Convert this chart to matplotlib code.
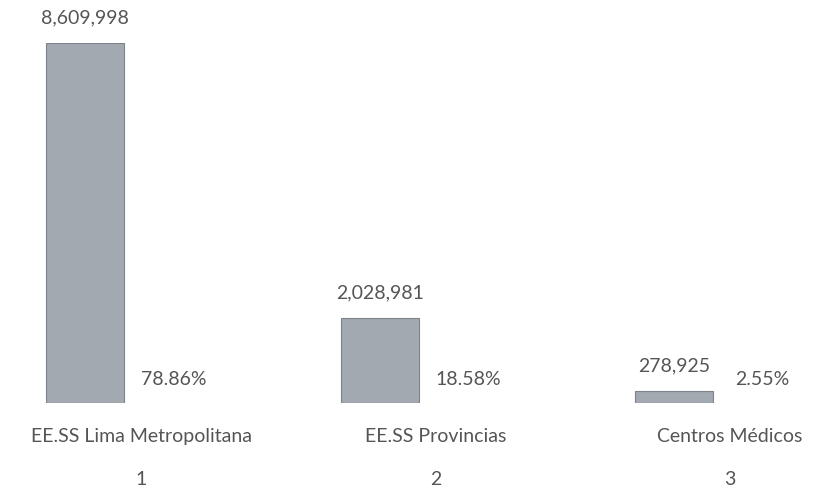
import matplotlib.pyplot as plt

# Data
categories = ["EE.SS Lima Metropolitana", "EE.SS Provincias", "Centros Médicos"]
numbers = ["1", "2", "3"]
values = [8609998, 2028981, 278925]
percents = ["78.86%", "18.58%", "2.55%"]

text_color = "#555555"
bar_color = "#a3a9b1"
plt.rcParams["font.family"] = ["Lato", "DejaVu Sans"]

fig = plt.figure(figsize=(8.14, 4.9), dpi=100)
ax = fig.add_axes([0, 0.1776, 1, 0.7347])

slots = list(range(len(categories)))
bar_x = [s - 0.19 for s in slots]
pct_x = [s + 0.11 for s in slots]

ax.bar(bar_x, values, width=0.265, color=bar_color, edgecolor="#7d838a", linewidth=0.8)

ax.set_xlim(-0.479, 2.285)
ax.set_ylim(0, max(values))
ax.axis("off")

for x, v in zip(bar_x, values):
    ax.annotate(f"{v:,}", (x, v), xytext=(0, 18), textcoords="offset points",
                ha="center", va="center", fontsize=14, color=text_color)

for x, p in zip(pct_x, percents):
    ax.annotate(p, (x, 0), xytext=(0, 17), textcoords="offset points",
                ha="center", va="center", fontsize=14, color=text_color)

for s, cat, num in zip(slots, categories, numbers):
    ax.annotate(cat, (s, 0), xytext=(0, -24), textcoords="offset points",
                ha="center", va="center", fontsize=14, color=text_color,
                annotation_clip=False)
    ax.annotate(num, (s, 0), xytext=(0, -55), textcoords="offset points",
                ha="center", va="center", fontsize=14, color=text_color,
                annotation_clip=False)

fig.savefig("out.png", dpi=100, facecolor="white")
